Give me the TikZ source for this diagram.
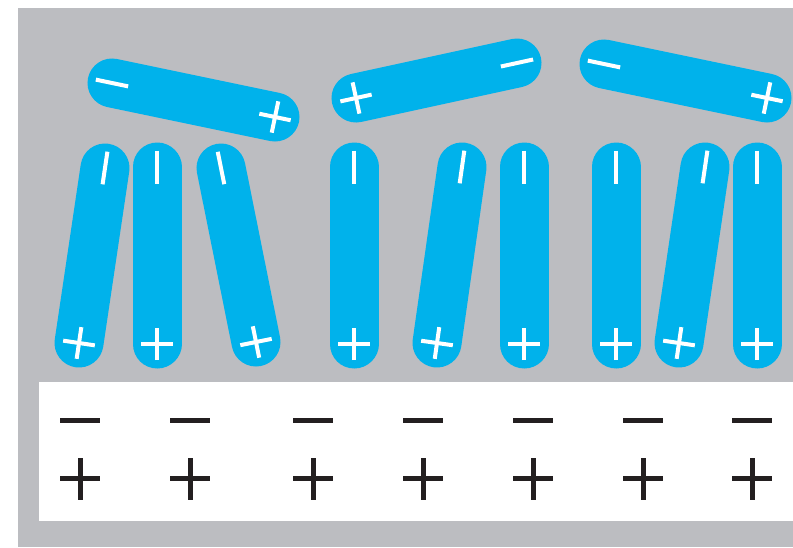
\documentclass[tikz,border=0pt]{standalone}
\usetikzlibrary{calc}
\definecolor{bggray}{RGB}{188,189,193}
\definecolor{rodblue}{RGB}{0,178,235}
\definecolor{ink}{RGB}{35,31,32}

\begin{document}
\begin{tikzpicture}[x=1pt,y=-1pt,
  rod/.style={line width=49pt,line cap=round,rodblue},
  sign/.style={line width=4pt,white},
  charge/.style={line width=5pt,ink}]
\useasboundingbox (0,0) rectangle (793,547);
% minus end, plus end
\def\dipole#1#2{%
  \draw[rod] (#1) -- (#2);
  \draw[sign] ($(#1)!-16.5pt!(#2)$) -- ($(#1)!16.5pt!(#2)$);
  \draw[sign] ($(#2)!-16pt!(#1)$) -- ($(#2)!16pt!(#1)$);
  \draw[sign] ($(#2)!16pt!90:(#1)$) -- ($(#2)!16pt!-90:(#1)$);}
\def\surface#1{%
  \draw[charge] (#1-20,420) -- (#1+20,420);
  \draw[charge] (#1-20,478) -- (#1+20,478);
  \draw[charge] (#1,458) -- (#1,500);}

\fill[bggray] (18,8) rectangle (793,547);
\fill[white] (39,382) rectangle (793,521);

% lying molecules
\dipole{112,83}{275,117}
\dipole{517,63}{356,98}
\dipole{604,64}{767,98}

% standing molecules
\dipole{105,168}{79,343}
\dipole{157,167}{157,344}
\dipole{221,168}{256,342}
\dipole{354,167}{354,344}
\dipole{462,167}{437,343}
\dipole{524,167}{524,344}
\dipole{616,167}{616,344}
\dipole{705,167}{679,343}
\dipole{757,167}{757,344}

% surface charges
\surface{80}
\surface{190}
\surface{313}
\surface{423}
\surface{533}
\surface{643}
\surface{752}
\end{tikzpicture}
\end{document}
